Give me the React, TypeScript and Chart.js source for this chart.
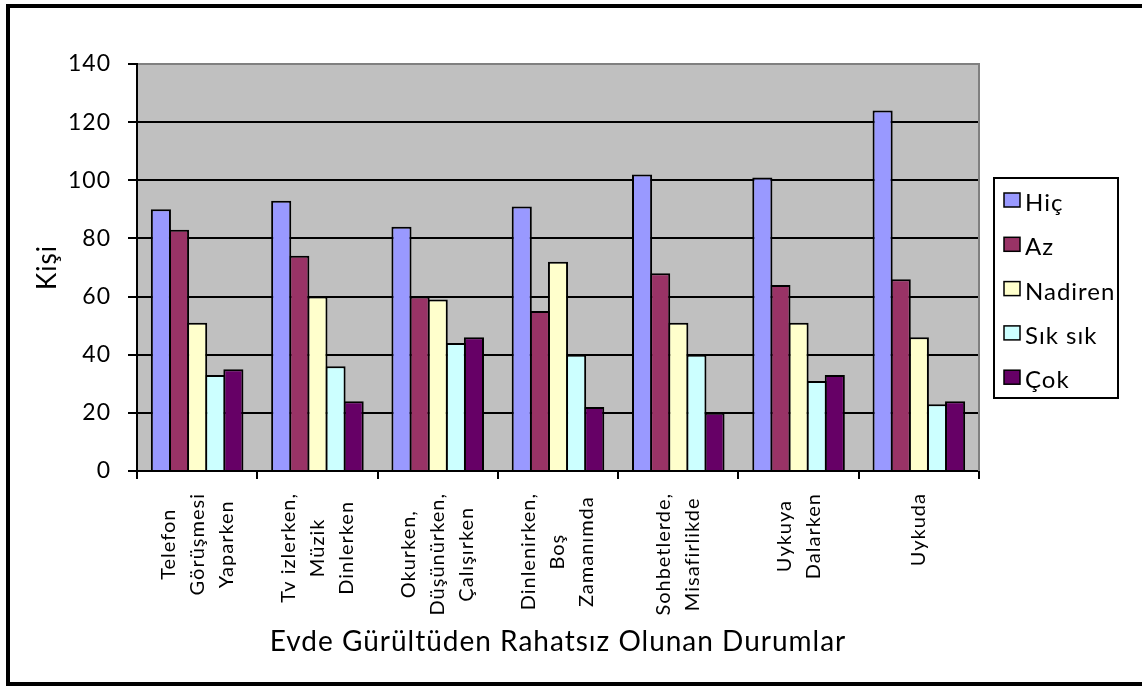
import { useEffect, useRef } from "react";
import { Chart, registerables } from "chart.js";

Chart.register(...registerables);

// Situation categories (each entry is a multi-line tick label)
const categories: string[][] = [
  ["Telefon", "Görüşmesi", "Yaparken"],
  ["Tv izlerken,", "Müzik", "Dinlerken"],
  ["Okurken,", "Düşünürken,", "Çalışırken"],
  ["Dinlenirken,", "Boş", "Zamanımda"],
  ["Sohbetlerde,", "Misafirlikde"],
  ["Uykuya", "Dalarken"],
  ["Uykuda"],
];

const seriesNames = ["Hiç", "Az", "Nadiren", "Sık sık", "Çok"];
const hic = [90, 93, 84, 91, 102, 101, 124];
const az = [83, 74, 60, 55, 68, 64, 66];
const nadiren = [51, 60, 59, 72, 51, 51, 46];
const sikSik = [33, 36, 44, 40, 40, 31, 23];
const cok = [35, 24, 46, 22, 20, 33, 24];
const seriesColors = ["#9999FF", "#993366", "#FFFFCC", "#CCFFFF", "#660066"];

const yMin = 0;
const yMax = 140;
const yStep = 20;
const yAxisTitle = "Kişi";
const xAxisTitle = "Evde Gürültüden Rahatsız Olunan Durumlar";

const FONT = "Lato, 'Noto Sans', sans-serif";

// Page frame, plot background and the plot's grey top/right edge
const framePlugin = {
  id: "frame",
  beforeDraw(chart: any) {
    const { ctx, chartArea } = chart;
    // slightly open letter spacing for all chart text
    ctx.letterSpacing = "1px";
    ctx.save();
    ctx.fillStyle = "#FFFFFF";
    ctx.fillRect(0, 0, chart.width, chart.height);
    ctx.fillStyle = "#C0C0C0";
    ctx.fillRect(chartArea.left, chartArea.top, chartArea.right - chartArea.left, chartArea.bottom - chartArea.top);
    ctx.strokeStyle = "#000000";
    ctx.lineWidth = 4;
    ctx.strokeRect(8, 6, chart.width + 20, chart.height - 8);
    ctx.restore();
  },
  afterDatasetsDraw(chart: any) {
    const { ctx, chartArea } = chart;
    ctx.save();
    ctx.strokeStyle = "#808080";
    ctx.lineWidth = 2;
    ctx.beginPath();
    ctx.moveTo(chartArea.left + 1, chartArea.top);
    ctx.lineTo(chartArea.right, chartArea.top);
    ctx.lineTo(chartArea.right, chartArea.bottom);
    ctx.stroke();
    ctx.restore();
  },
};

// Vertical, centred multi-line category labels under each group
const categoryLabelPlugin = {
  id: "categoryLabels",
  afterDraw(chart: any) {
    const { ctx, chartArea } = chart;
    const xScale = chart.scales.x;
    const lineGap = 29;
    const top = chartArea.bottom + 22;
    ctx.save();
    ctx.font = `20px ${FONT}`;
    ctx.letterSpacing = "1px";
    ctx.fillStyle = "#000000";
    ctx.textAlign = "center";
    ctx.textBaseline = "middle";
    categories.forEach((lines, i) => {
      const cx = xScale.getPixelForValue(i);
      const maxW = Math.max(...lines.map((l) => ctx.measureText(l).width));
      const cy = top + maxW / 2;
      lines.forEach((line, j) => {
        const lx = cx + (j - (lines.length - 1) / 2) * lineGap;
        ctx.save();
        ctx.translate(lx, cy);
        ctx.rotate(-Math.PI / 2);
        ctx.fillText(line, 0, 0);
        ctx.restore();
      });
    });
    ctx.restore();
  },
};

// Boxed legend to the right of the plot
const legendPlugin = {
  id: "boxLegend",
  afterDraw(chart: any) {
    const { ctx, chartArea } = chart;
    const left = chartArea.right + 15;
    const top = 178;
    const width = 124;
    const height = 220;
    ctx.save();
    ctx.fillStyle = "#FFFFFF";
    ctx.fillRect(left, top, width, height);
    ctx.strokeStyle = "#000000";
    ctx.lineWidth = 2;
    ctx.strokeRect(left, top, width, height);
    ctx.font = `24px ${FONT}`;
    ctx.letterSpacing = "1px";
    ctx.textAlign = "left";
    ctx.textBaseline = "alphabetic";
    chart.data.datasets.forEach((ds: any, i: number) => {
      const sy = top + 15 + i * 44.3;
      ctx.fillStyle = ds.backgroundColor;
      ctx.fillRect(left + 10, sy, 16, 14);
      ctx.lineWidth = 1.5;
      ctx.strokeStyle = "#000000";
      ctx.strokeRect(left + 10, sy, 16, 14);
      ctx.fillStyle = "#000000";
      ctx.fillText(ds.label, left + 31, sy + 18);
    });
    ctx.restore();
  },
};

export default function App() {
  const canvasRef = useRef<HTMLCanvasElement | null>(null);

  useEffect(() => {
    const canvas = canvasRef.current;
    if (!canvas) return;
    const values = [hic, az, nadiren, sikSik, cok];
    const chart = new Chart(canvas, {
      type: "bar",
      data: {
        labels: categories.map((c) => c.join(" ")),
        datasets: seriesNames.map((name, i) => ({
          label: name,
          data: values[i],
          backgroundColor: seriesColors[i],
          borderColor: "#000000",
          borderWidth: 2,
          categoryPercentage: 0.753,
          barPercentage: 1.11,
        })),
      },
      options: {
        responsive: false,
        animation: false,
        layout: { padding: { top: 64, right: 163, left: 0, bottom: 0 } },
        plugins: {
          legend: { display: false },
          tooltip: { enabled: false },
        },
        scales: {
          x: {
            offset: true,
            afterFit(scale: any) {
              scale.height = 215;
            },
            grid: {
              offset: true,
              drawOnChartArea: false,
              drawTicks: true,
              tickLength: 8,
              color: "#000000",
              lineWidth: 2,
            },
            border: { display: true, color: "#000000", width: 2 },
            ticks: { display: false },
            title: {
              display: true,
              text: xAxisTitle,
              color: "#000000",
              font: { family: FONT, size: 28 },
              padding: { top: 0, bottom: 27 },
            },
          },
          y: {
            min: yMin,
            max: yMax,
            afterFit(scale: any) {
              scale.width = 137;
            },
            grid: {
              color: (ctx: any) => (ctx.tick && ctx.tick.value === yMax ? "#808080" : "#000000"),
              tickColor: "#000000",
              lineWidth: 2,
              tickLength: 9,
              drawTicks: true,
            },
            border: { display: true, color: "#000000", width: 2 },
            ticks: {
              stepSize: yStep,
              padding: 17,
              color: "#000000",
              font: { family: FONT, size: 23 },
            },
            title: {
              display: true,
              text: yAxisTitle,
              color: "#000000",
              font: { family: FONT, size: 26 },
              padding: { top: 32, bottom: 0 },
            },
          },
        },
      },
      plugins: [framePlugin, categoryLabelPlugin, legendPlugin],
    });
    return () => chart.destroy();
  }, []);

  return (
    <div style={{ position: "absolute", left: 0, top: 0, width: 1142, height: 686 }}>
      <canvas ref={canvasRef} width={1142} height={686} style={{ display: "block" }} />
    </div>
  );
}
